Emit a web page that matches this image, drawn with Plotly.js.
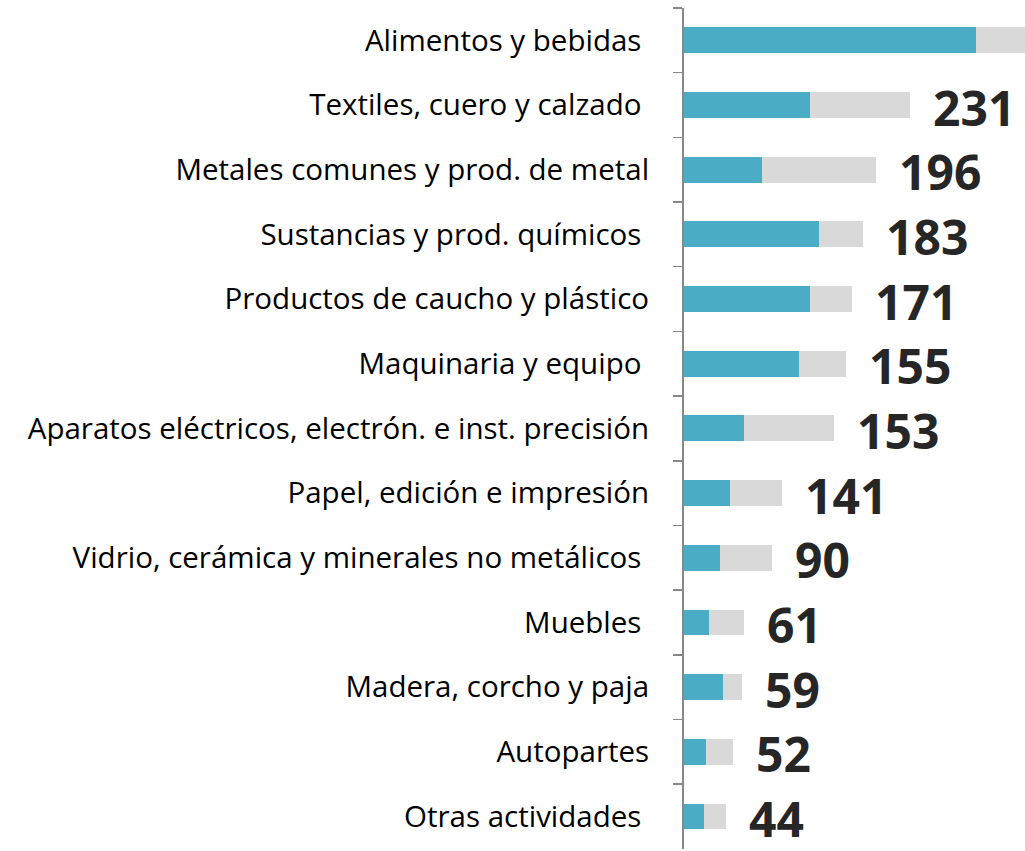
<!DOCTYPE html>
<html>
<head>
<meta charset="utf-8">
<script src="https://cdn.plot.ly/plotly-3.0.1.min.js"></script>
<style>html,body{margin:0;padding:0;background:#fff;}#chart{width:1025px;height:851px;}</style>
</head>
<body>
<div id="chart"></div>
<script>
var categories = [
  "Alimentos y bebidas\u00a0",
  "Textiles, cuero y calzado\u00a0",
  "Metales comunes y prod. de metal",
  "Sustancias y prod. químicos\u00a0",
  "Productos de caucho y plástico",
  "Maquinaria y equipo\u00a0",
  "Aparatos eléctricos, electrón. e inst. precisión",
  "Papel, edición e impresión",
  "Vidrio, cerámica y minerales no metálicos\u00a0",
  "Muebles\u00a0",
  "Madera, corcho y paja",
  "Autopartes",
  "Otras actividades\u00a0"
];
var tealValues = [299, 128.5, 80, 138, 129, 118, 61, 47, 37, 26, 40, 23, 20];
var grayValues = [80, 102.5, 116, 45, 42.5, 47.5, 93, 53, 53.5, 35, 19, 27.5, 22.5];
var labelValues = [null, 231, 196, 183, 171, 155, 153, 141, 90, 61, 59, 52, 44];

var totals = tealValues.map(function(v, i){ return v + grayValues[i]; });

var traces = [
  {type: 'bar', orientation: 'h', y: categories, x: tealValues,
   marker: {color: '#4BACC6'}, hoverinfo: 'x+y'},
  {type: 'bar', orientation: 'h', y: categories, x: grayValues,
   marker: {color: '#D9D9D9'}, hoverinfo: 'x+y'}
];

var annotations = [];
labelValues.forEach(function(v, i){
  if (v === null) return;
  annotations.push({
    x: totals[i], y: categories[i], xref: 'x', yref: 'y',
    text: String(v), showarrow: false, xanchor: 'left', yanchor: 'middle',
    xshift: 21, yshift: -2,
    font: {family: 'Open Sans', size: 48, color: '#262626', weight: 700}
  });
});

var layout = {
  width: 1025, height: 851,
  margin: {l: 684, r: 0, t: 8, b: 2, pad: 0},
  barmode: 'stack', bargap: 0.6,
  showlegend: false,
  paper_bgcolor: '#ffffff', plot_bgcolor: '#ffffff',
  font: {family: 'Open Sans', color: '#000000'},
  xaxis: {range: [0, 349], visible: false, fixedrange: true},
  yaxis: {
    autorange: 'reversed', type: 'category',
    showline: true, linecolor: '#888888', linewidth: 2,
    ticks: 'outside', ticklen: 9, tickwidth: 1.5, tickcolor: '#888888',
    tickson: 'boundaries', ticklabelstandoff: 27,
    tickfont: {family: 'Open Sans', size: 29.5, color: '#000000'},
    showgrid: false, zeroline: false, automargin: false
  },
  annotations: annotations
};

Plotly.newPlot('chart', traces, layout, {displayModeBar: false, staticPlot: true});
</script>
</body>
</html>
